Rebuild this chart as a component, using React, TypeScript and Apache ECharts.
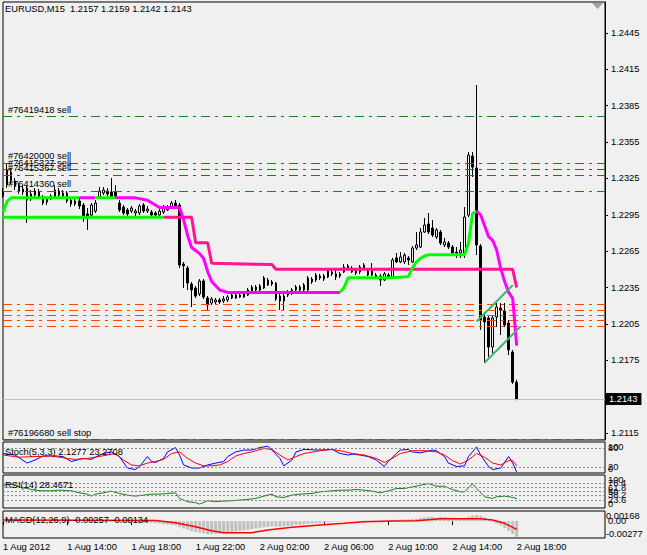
import React, { useEffect, useRef } from "react";
import * as echarts from "echarts";

const FONT = '"Liberation Sans", Arial, sans-serif';
const FS = 9.3;

// ---------- bars: 1 Aug 2012 10:00 .. 2 Aug 18:00, M15 ----------
const tickLabels = ["1 Aug 2012", "1 Aug 14:00", "1 Aug 18:00", "1 Aug 22:00", "2 Aug 02:00", "2 Aug 06:00", "2 Aug 10:00", "2 Aug 14:00", "2 Aug 18:00"];
const tickStep = 16;
const slotCount = 151;

const opens = [
  1.23138, 1.23196, 1.23303, 1.23229, 1.23188, 1.23138, 1.23171, 1.2308, 1.23113, 1.23138,
  1.23097, 1.23056, 1.2308, 1.23097, 1.23146, 1.23105, 1.2313, 1.23072, 1.23039, 1.23064,
  1.23031, 1.22957, 1.22948, 1.22981, 1.23097, 1.2313, 1.23146, 1.23138, 1.23138, 1.23047,
  1.23014, 1.2299, 1.22981, 1.22965, 1.22965, 1.23031, 1.22981, 1.22973, 1.22965, 1.22948,
  1.22973, 1.2299, 1.23006, 1.23047, 1.23031, 1.22544, 1.22511, 1.22379, 1.22346, 1.22297,
  1.22404, 1.22264, 1.22222, 1.22231, 1.22247, 1.22239, 1.22247, 1.22264, 1.22288, 1.22272,
  1.22272, 1.22288, 1.22313, 1.22354, 1.2233, 1.22346, 1.22371, 1.22396, 1.22387, 1.2228,
  1.2228, 1.22288, 1.22305, 1.2233, 1.22354, 1.2233, 1.2233, 1.2242, 1.22412, 1.22445,
  1.22445, 1.22437, 1.22478, 1.22437, 1.22462, 1.22478, 1.22511, 1.22511, 1.22486, 1.22478,
  1.22511, 1.22486, 1.22495, 1.22453, 1.22445, 1.22412, 1.22453, 1.22437, 1.22594, 1.22561,
  1.22561, 1.22594, 1.22561, 1.22676, 1.22684, 1.22808, 1.22874, 1.22841, 1.22767, 1.22808,
  1.22701, 1.22717, 1.22684, 1.22643, 1.22635, 1.22635, 1.22948, 1.23435, 1.23336, 1.22693,
  1.22107, 1.22099, 1.21859, 1.22107, 1.22181, 1.22156, 1.22057, 1.21818, 1.2157,
];
const highs = [
  1.23171, 1.23369, 1.23336, 1.23254, 1.23212, 1.23188, 1.23196, 1.23155, 1.23171, 1.23163,
  1.23113, 1.23097, 1.23122, 1.23196, 1.23171, 1.23155, 1.23146, 1.23089, 1.2308, 1.23089,
  1.23047, 1.23006, 1.23047, 1.23072, 1.23179, 1.23179, 1.23171, 1.23254, 1.23196, 1.23072,
  1.23031, 1.23006, 1.23023, 1.22998, 1.23039, 1.23047, 1.23023, 1.2299, 1.22981, 1.22998,
  1.23031, 1.23031, 1.23064, 1.23072, 1.23047, 1.22561, 1.22528, 1.22396, 1.22363, 1.2242,
  1.2242, 1.2228, 1.22272, 1.22264, 1.22264, 1.2228, 1.22288, 1.22305, 1.22305, 1.22305,
  1.22321, 1.22346, 1.22371, 1.22371, 1.22379, 1.22445, 1.22429, 1.22412, 1.22396, 1.22297,
  1.22297, 1.2233, 1.22346, 1.22371, 1.22371, 1.22387, 1.22445, 1.22437, 1.2247, 1.22462,
  1.22462, 1.22503, 1.22495, 1.22495, 1.22478, 1.22544, 1.22544, 1.22528, 1.22503, 1.22536,
  1.22552, 1.22503, 1.22552, 1.2247, 1.22462, 1.22478, 1.2247, 1.22594, 1.22635, 1.22643,
  1.22635, 1.2261, 1.22693, 1.22808, 1.22841, 1.22924, 1.22965, 1.22907, 1.22841, 1.22825,
  1.22759, 1.22734, 1.22701, 1.22684, 1.22726, 1.23014, 1.23468, 1.23468, 1.24021, 1.22709,
  1.22148, 1.22115, 1.22123, 1.22222, 1.22222, 1.22222, 1.22082, 1.21835, 1.2159,
];
const lows = [
  1.23089, 1.23171, 1.23204, 1.23155, 1.23122, 1.23113, 1.22882, 1.23064, 1.23097, 1.2308,
  1.23031, 1.23031, 1.23072, 1.23089, 1.23097, 1.23089, 1.23047, 1.23014, 1.23023, 1.22998,
  1.22891, 1.22825, 1.22932, 1.22965, 1.2308, 1.23113, 1.23105, 1.2308, 1.23089, 1.22973,
  1.22948, 1.22932, 1.22965, 1.2294, 1.22948, 1.22965, 1.22965, 1.2294, 1.22932, 1.22932,
  1.22957, 1.22981, 1.22998, 1.22998, 1.22511, 1.22346, 1.2233, 1.22189, 1.22264, 1.2228,
  1.22255, 1.22165, 1.22206, 1.22214, 1.22214, 1.22222, 1.22231, 1.22255, 1.22255, 1.22264,
  1.22264, 1.2228, 1.22305, 1.22313, 1.22321, 1.22338, 1.22363, 1.22363, 1.22239, 1.22165,
  1.22165, 1.22272, 1.22288, 1.22313, 1.22321, 1.22313, 1.22313, 1.22379, 1.22396, 1.22412,
  1.22404, 1.22429, 1.22445, 1.22412, 1.22429, 1.2247, 1.22495, 1.2247, 1.22453, 1.22462,
  1.22495, 1.22445, 1.22445, 1.2242, 1.22363, 1.22404, 1.22429, 1.22429, 1.22552, 1.22552,
  1.22544, 1.22536, 1.22552, 1.2266, 1.22676, 1.228, 1.22792, 1.22767, 1.2275, 1.22701,
  1.22684, 1.22668, 1.22618, 1.22594, 1.22594, 1.22594, 1.22932, 1.23262, 1.22618, 1.22,
  1.21727, 1.21777, 1.2181, 1.22024, 1.21958, 1.22024, 1.21793, 1.21554, 1.2142,
];
const closes = [
  1.23105, 1.2332, 1.23229, 1.23188, 1.23146, 1.23163, 1.23072, 1.23122, 1.23146, 1.23097,
  1.23047, 1.2308, 1.23105, 1.23155, 1.23113, 1.2313, 1.23064, 1.23039, 1.23064, 1.23023,
  1.22932, 1.2294, 1.23031, 1.23047, 1.23146, 1.23155, 1.23122, 1.23097, 1.23105, 1.2299,
  1.22965, 1.22957, 1.23006, 1.22981, 1.23023, 1.22981, 1.22998, 1.22948, 1.22948, 1.22981,
  1.23014, 1.23014, 1.23047, 1.23014, 1.22536, 1.22528, 1.22387, 1.2233, 1.2228, 1.22404,
  1.22272, 1.22206, 1.22255, 1.22247, 1.22231, 1.22255, 1.22272, 1.22288, 1.22264, 1.22288,
  1.22297, 1.2233, 1.22354, 1.2233, 1.22363, 1.22429, 1.22412, 1.22379, 1.22255, 1.22239,
  1.22239, 1.22313, 1.2233, 1.22354, 1.2233, 1.22371, 1.22429, 1.22396, 1.22453, 1.22429,
  1.2242, 1.22486, 1.22462, 1.22462, 1.22445, 1.22519, 1.22528, 1.22478, 1.2247, 1.22519,
  1.22536, 1.22453, 1.22453, 1.22429, 1.22412, 1.22462, 1.22437, 1.22577, 1.22561, 1.22602,
  1.22618, 1.22577, 1.22676, 1.22701, 1.22808, 1.22866, 1.22808, 1.22783, 1.22825, 1.22717,
  1.22726, 1.22684, 1.22635, 1.22635, 1.2266, 1.22932, 1.23443, 1.23344, 1.22701, 1.22082,
  1.22066, 1.21859, 1.22099, 1.22189, 1.22165, 1.22041, 1.21835, 1.2157, 1.2143,
];

// ---------- trailing stop lines [bar, price] ----------
const upperLimeA = [[0, 1.2297], [1, 1.2306], [2, 1.2309], [19, 1.2309]];
const upperMagentaB = [[19, 1.2309], [23, 1.2309]];
const upperLimeC = [[23, 1.2309], [28, 1.2309]];
const upperMagentaD = [[28, 1.2309], [33, 1.2309], [36, 1.2307], [39, 1.2301], [44, 1.2301], [45, 1.2291], [46, 1.2278], [47, 1.2268], [49, 1.2263], [50, 1.2259], [51, 1.2248], [52, 1.224], [54, 1.2233], [56, 1.2231], [84, 1.2231]];
const upperLimeE = [[84, 1.2231], [85, 1.2235], [86, 1.2243], [97, 1.2243], [101, 1.2244], [102, 1.2251], [103, 1.2256], [104, 1.2259], [105, 1.2261], [106, 1.2262], [115, 1.2262], [116, 1.2272], [117, 1.2296], [118, 1.2298]];
const upperMagentaF = [[118, 1.2298], [119, 1.2295], [120, 1.2286], [121, 1.2277], [122, 1.2274], [123, 1.2266], [124, 1.2251], [125, 1.224], [126, 1.2231], [127, 1.2226], [128, 1.2187]];
const lowerLime = [[0, 1.2293], [40, 1.2293]];
const lowerPink = [[40, 1.2293], [47, 1.2293], [48, 1.2272], [51, 1.2272], [52, 1.2255], [67, 1.2254], [68, 1.225], [127, 1.225], [128, 1.2235]];
const channelUpper = [[118, 1.2207], [127, 1.2237]];
const channelLower = [[120, 1.2173], [129, 1.2203]];

// ---------- orders ----------
const sellPrices = [1.23761, 1.23378, 1.23328, 1.23279, 1.23147];
const sellLabels = ["#76419418 sell", "#76420000 sell", "#76415327 sell", "#76415367 sell", "#76414360 sell"];
const takeProfitPrices = [1.22214, 1.22165, 1.22123, 1.22082, 1.22033];
const sellStopPrice = 1.211;
const sellStopLabel = "#76196680 sell stop";
const bidPrice = 1.2143;

// ---------- axes ----------
const priceMin = 1.21092;
const priceMax = 1.24706;
const priceTicks = [1.2115, 1.2145, 1.2175, 1.2205, 1.2235, 1.2265, 1.2295, 1.2325, 1.2355, 1.2385, 1.2415, 1.2445];
const stochBounds = [0, 100];
const stochLevels = [20, 80];
const rsiBounds = [0, 100];
const rsiLevelsA = [23.6, 61.8];
const rsiLevelsB = [38.2, 76.4];
const rsiLevelsC = [50];
const macdMin = -0.00277;
const macdMax = 0.00168;
const macdBounds = [-0.00277, 0.00168];
const macdZero = [0];

// ---------- indicators ----------
const stochMain = [[0, 63], [3, 58], [6, 32], [8, 42], [10, 55], [13, 55], [15, 53], [17, 37], [19, 44], [20, 47], [22, 44], [23, 51], [25, 63], [27, 68], [29, 53], [31, 16], [33, 11], [34, 21], [36, 53], [37, 37], [38, 34], [40, 47], [41, 68], [43, 82], [44, 58], [45, 26], [47, 16], [49, 16], [51, 26], [53, 32], [55, 37], [56, 53], [58, 68], [60, 74], [62, 74], [64, 82], [66, 86], [67, 74], [69, 47], [70, 23], [72, 42], [73, 68], [75, 76], [79, 74], [82, 76], [84, 63], [86, 58], [87, 61], [89, 58], [91, 53], [93, 42], [95, 21], [96, 37], [98, 63], [99, 74], [101, 76], [102, 68], [104, 65], [107, 74], [108, 72], [110, 53], [111, 32], [113, 21], [115, 23], [116, 53], [118, 84], [119, 58], [121, 21], [122, 11], [124, 16], [126, 53], [127, 32], [128, 2.1277]];
const stochSignal = [[0, 58], [4, 51], [8, 53], [12, 55], [16, 47], [18, 44], [21, 47], [23, 51], [26, 58], [28, 63], [30, 42], [32, 26], [34, 23], [36, 32], [38, 37], [40, 44], [42, 63], [44, 68], [46, 47], [48, 32], [50, 23], [52, 23], [54, 26], [56, 37], [58, 55], [60, 63], [62, 68], [65, 79], [67, 76], [69, 58], [71, 42], [73, 53], [75, 63], [79, 72], [82, 76], [84, 72], [87, 63], [90, 58], [93, 47], [95, 34], [97, 47], [99, 63], [102, 72], [105, 72], [108, 68], [110, 58], [112, 40], [114, 29], [116, 42], [118, 63], [120, 51], [122, 32], [124, 26], [126, 40], [127, 40], [128, 23.2708]];
const rsiValues = [[0, 69], [2, 72], [4, 64], [6, 59], [8, 54], [10, 52], [12, 52], [14, 54], [17, 52], [19, 46], [21, 42], [22, 36], [23, 42], [25, 46], [27, 51], [29, 44], [31, 39], [33, 36], [35, 39], [37, 42], [39, 42], [41, 44], [43, 46], [44, 29], [46, 19], [48, 16], [49, 12], [51, 22], [53, 19], [55, 21], [57, 22], [59, 24], [61, 26], [63, 29], [65, 36], [67, 42], [68, 34], [70, 32], [72, 39], [74, 42], [77, 44], [79, 49], [82, 52], [84, 54], [86, 54], [88, 56], [90, 54], [92, 51], [94, 46], [96, 52], [98, 59], [100, 59], [102, 64], [104, 69], [106, 74], [108, 66], [110, 66], [112, 56], [114, 49], [115, 49], [117, 74], [118, 59], [120, 34], [122, 29], [123, 34], [125, 36], [127, 32], [128, 28.4671]];
const macdHist = [
  0.0001, 0.0001,
  0.0001, 0.00012, 0.00015, 0.00018, 0.0002, 0.0002, 0.00022, 0.0002, 0.00018, 0.00015, 0.00012, 0.0001, 0.0001, 0.00008, 0.00005, 0.00003, 0, -0.00002, -0.00005, -0.00008, -0.0001, -0.00008, -0.00005, -0.0001, -0.00012,
  -0.00015, -0.0001, -0.00018, -0.00025, -0.0003, -0.00028, -0.0003, -0.00033, -0.00035, -0.0003, -0.00028, -0.00032,
  -0.0004, -0.0005, -0.0006, -0.0006, -0.0007, -0.001, -0.0012, -0.0014,
  -0.0016, -0.0018, -0.0019, -0.002, -0.0021, -0.0021, -0.0021, -0.002, -0.002,
  -0.0019, -0.0018, -0.0017, -0.0016, -0.0015, -0.0014, -0.0013, -0.0012, -0.0011,
  -0.001, -0.0009, -0.0008, -0.0009, -0.0009, -0.0008, -0.0008, -0.0007, -0.0006, -0.0006, -0.0005, -0.0004, -0.0004, -0.0003, -0.0003,
  -0.0002, -0.0002, -0.0001, -0.0001, -0.00005, 0, 0.00005, 0, -0.00005, 0.00005, 0.0001, 0.00005, 0.00005, 0, 0, 0.00005,
  0.0001, 0.0002, 0.0002, 0.0003, 0.0003, 0.0003, 0.0004, 0.0004, 0.0005,
  0.0006, 0.0007, 0.0007, 0.0006, 0.0007, 0.0007, 0.0006, 0.0006,
  0.0005, 0.0005, 0.0005, 0.0007,
  0.0009, 0.001, 0.0009,
  0.0006, 0.0003, -0.0001, -0.0004, -0.0007, -0.0011, -0.0016, -0.0021, -0.00257,
];
const macdSignal = [[0, 0.0002], [38, 0.0001], [43, -0.00025], [48, -0.0009], [52, -0.00157], [55, -0.0019], [62, -0.0019], [66, -0.00145], [72, -0.001], [79, -0.00063], [85, -0.00035], [90, -0.00008], [97, 0.00003], [103, 0.00008], [109, 0.00041], [119, 0.00041], [122, 0.0002], [125, -0.00035], [128, -0.00134]];

const titleMain = "EURUSD,M15  1.2157 1.2159 1.2142 1.2143";
const titleStoch = "Stoch(5,3,3) 2.1277 23.2708";
const titleRsi = "RSI(14) 28.4671";
const titleMacd = "MACD(12,26,9) -0.00257 -0.00134";

const categories = Array.from({ length: slotCount }, (_, i) => String(i));
const showTick = (idx: number) => idx % tickStep === 0 && idx / tickStep < tickLabels.length;

function buildOption() {
  const txt = { fontFamily: FONT, fontSize: FS, color: "#000" };
  const gridBase = { left: 3, width: 602, show: true, borderColor: "#000", borderWidth: 1, backgroundColor: "transparent" };
  const grids = [
    { ...gridBase, top: 2, height: 438 },
    { ...gridBase, top: 442, height: 31 },
    { ...gridBase, top: 475, height: 33 },
    { ...gridBase, top: 511, height: 27 },
  ];
  const xAxes = [0, 1, 2, 3].map((i) => ({
    type: "category",
    gridIndex: i,
    data: categories,
    boundaryGap: false,
    show: i === 3,
    axisLine: { show: false },
    splitLine: { show: false },
    axisTick: { show: i === 3, interval: (idx: number) => showTick(idx), length: 4, lineStyle: { color: "#000" } },
    axisLabel: {
      show: i === 3,
      interval: (idx: number) => showTick(idx),
      formatter: (_v: string, idx: number) => tickLabels[idx / tickStep] ?? "",
      align: "left",
      margin: 4,
      ...txt,
    },
  }));
  // label-only value axes for the indicator panes
  const labelAxis = (grid: number, min: number, max: number, ticks: number[], fmt: (v: number) => string, margin: number, bounds: boolean) => ({
    type: "value",
    gridIndex: grid,
    position: "right",
    min,
    max,
    splitLine: { show: false },
    axisLine: { show: false },
    axisTick: { show: false },
    axisLabel: {
      customValues: ticks,
      formatter: fmt,
      margin,
      showMinLabel: true,
      showMaxLabel: true,
      hideOverlap: false,
      ...(bounds ? { verticalAlignMinLabel: "bottom", verticalAlignMaxLabel: "top" } : {}),
      ...txt,
    },
  });
  const num = (v: number) => String(v);
  const macdFmt = (v: number) => (v === 0 ? "0.00" : v.toFixed(5));
  const yAxes = [
    {
      type: "value",
      gridIndex: 0,
      position: "right",
      min: priceMin,
      max: priceMax,
      splitLine: { show: false },
      axisLine: { show: true, lineStyle: { color: "#000" } },
      axisTick: { show: true, customValues: priceTicks, length: 3, lineStyle: { color: "#000" } },
      axisLabel: { customValues: priceTicks, formatter: (v: number) => v.toFixed(4), margin: 6, showMinLabel: true, showMaxLabel: true, ...txt },
    },
    labelAxis(1, 0, 100, stochBounds, num, 3, true), // 1
    labelAxis(1, 0, 100, stochLevels, num, 3, false), // 2
    labelAxis(2, 0, 100, rsiBounds, num, 3, true), // 3
    labelAxis(2, 0, 100, rsiLevelsA, num, 3, false), // 4
    labelAxis(2, 0, 100, rsiLevelsB, num, 3, false), // 5
    labelAxis(2, 0, 100, rsiLevelsC, num, 3, false), // 6
    labelAxis(3, macdMin, macdMax, macdBounds, macdFmt, 1, true), // 7
    labelAxis(3, macdMin, macdMax, macdZero, macdFmt, 3, false), // 8
  ];

  const orderDash = [9, 5, 3, 5];
  const markData: any[] = [];
  sellPrices.forEach((p, k) => {
    markData.push({
      yAxis: p,
      lineStyle: { color: "#1a7f1a", type: orderDash, width: 1 },
      label: { show: true, position: "insideStartTop", formatter: sellLabels[k], distance: [5, 2], ...txt },
    });
  });
  takeProfitPrices.forEach((p) => {
    markData.push({ yAxis: p, lineStyle: { color: "#FF4500", type: orderDash, width: 1 }, label: { show: false } });
  });
  markData.push({
    yAxis: sellStopPrice,
    lineStyle: { color: "#1a7f1a", type: orderDash, width: 1 },
    label: { show: true, position: "insideStartTop", formatter: sellStopLabel, distance: [5, 2], ...txt },
  });
  markData.push({
    yAxis: bidPrice,
    lineStyle: { color: "#C0C0C0", type: "solid", width: 1 },
    label: {
      show: true,
      position: "end",
      formatter: bidPrice.toFixed(4),
      distance: 1,
      backgroundColor: "#000",
      padding: [2, 4, 1, 3],
      fontFamily: FONT,
      fontSize: FS,
      color: "#fff",
    },
  });

  const stopLine = (data: number[][], color: string, z = 4) => ({
    type: "line",
    xAxisIndex: 0,
    yAxisIndex: 0,
    data,
    symbol: "none",
    showSymbol: false,
    silent: true,
    z,
    lineStyle: { color, width: 3 },
  });
  const levelMark = (levels: number[]) => ({
    silent: true,
    precision: 5,
    symbol: ["none", "none"],
    label: { show: false },
    lineStyle: { color: "#8c8c8c", type: [2, 2], width: 1 },
    data: levels.map((v) => ({ yAxis: v })),
  });

  const series: any[] = [
    {
      type: "candlestick",
      xAxisIndex: 0,
      yAxisIndex: 0,
      data: opens.map((o, i) => [o, closes[i], lows[i], highs[i]]),
      barWidth: 2,
      clip: true,
      silent: true,
      z: 2,
      itemStyle: { color: "#F0F0F0", color0: "#000", borderColor: "#000", borderColor0: "#000", borderWidth: 1 },
    },
    {
      ...stopLine(lowerLime, "#00FF00"),
      markLine: { silent: true, precision: 5, symbol: ["none", "none"], data: markData },
    },
    stopLine(lowerPink, "#FF1493"),
    stopLine(upperLimeA, "#00FF00", 5),
    stopLine(upperMagentaB, "#FF00FF", 5),
    stopLine(upperLimeC, "#00FF00", 5),
    stopLine(upperMagentaD, "#FF00FF", 5),
    stopLine(upperLimeE, "#00FF00", 5),
    stopLine(upperMagentaF, "#FF00FF", 5),
    { type: "line", xAxisIndex: 0, yAxisIndex: 0, data: channelUpper, symbol: "none", silent: true, z: 6, lineStyle: { color: "#3CB371", width: 2 } },
    { type: "line", xAxisIndex: 0, yAxisIndex: 0, data: channelLower, symbol: "none", silent: true, z: 6, lineStyle: { color: "#3CB371", width: 2 } },
    {
      type: "line",
      xAxisIndex: 1,
      yAxisIndex: 1,
      data: stochMain,
      symbol: "none",
      silent: true,
      lineStyle: { color: "#0000FF", width: 1 },
      markLine: levelMark(stochLevels),
    },
    { type: "line", xAxisIndex: 1, yAxisIndex: 1, data: stochSignal, symbol: "none", silent: true, lineStyle: { color: "#FF0000", width: 1 } },
    {
      type: "line",
      xAxisIndex: 2,
      yAxisIndex: 3,
      data: rsiValues,
      symbol: "none",
      silent: true,
      lineStyle: { color: "#1F7A1F", width: 1 },
      markLine: levelMark([...rsiLevelsA, ...rsiLevelsB, ...rsiLevelsC]),
    },
    { type: "bar", xAxisIndex: 3, yAxisIndex: 7, data: macdHist, barWidth: 3, silent: true, itemStyle: { color: "#C0C0C0" } },
    { type: "line", xAxisIndex: 3, yAxisIndex: 7, data: macdSignal, symbol: "none", silent: true, z: 4, lineStyle: { color: "#FF0000", width: 1.5 } },
  ];

  const ttl = (text: string, top: number) => ({
    text,
    left: 5,
    top,
    padding: 0,
    textStyle: { fontFamily: FONT, fontSize: FS, fontWeight: "normal", color: "#000" },
  });

  return {
    animation: false,
    backgroundColor: "#F0F0F0",
    textStyle: { fontFamily: FONT, fontSize: FS, color: "#000" },
    title: [ttl(titleMain, 4), ttl(titleStoch, 447), ttl(titleRsi, 480), ttl(titleMacd, 515)],
    grid: grids,
    xAxis: xAxes,
    yAxis: yAxes,
    series,
    graphic: [
      { type: "polygon", shape: { points: [[592, 3], [603, 3], [597.5, 9]] }, style: { fill: "#A0A0A0" }, silent: true },
    ],
  };
}

export default function App() {
  const ref = useRef<HTMLDivElement>(null);
  useEffect(() => {
    if (!ref.current) return;
    const chart = echarts.init(ref.current, null, { renderer: "svg" });
    chart.setOption(buildOption() as any);
    return () => chart.dispose();
  }, []);
  return (
    <div
      ref={ref}
      style={{ position: "fixed", left: 0, top: 0, width: 647, height: 555, background: "#F0F0F0" }}
    />
  );
}
